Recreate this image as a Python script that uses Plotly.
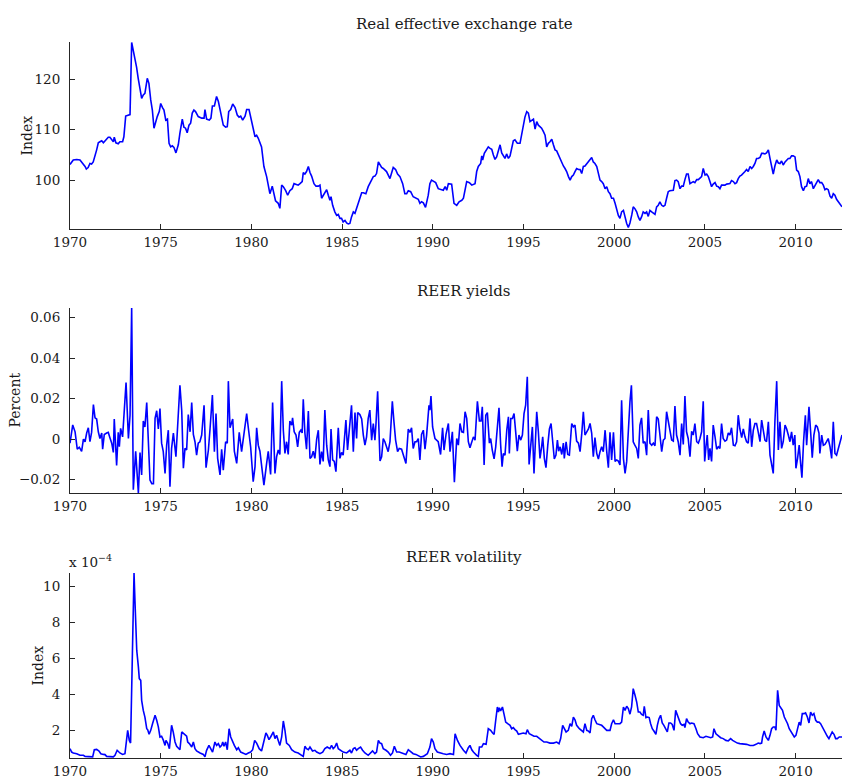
import plotly.graph_objects as go

# ---- data (decimal year, value) ----
reer_years = [
    1970.00, 1970.18, 1970.37, 1970.55, 1970.83, 1970.90, 1971.00, 1971.10, 1971.19, 1971.28,
    1971.47, 1971.56, 1971.65, 1971.75, 1971.84, 1972.02, 1972.11, 1972.20, 1972.30, 1972.39,
    1972.44, 1972.53, 1972.66, 1972.75, 1972.90, 1972.97, 1973.07, 1973.21, 1973.31, 1973.40,
    1973.49, 1973.58, 1973.67, 1973.76, 1973.86, 1973.95, 1974.04, 1974.13, 1974.26, 1974.35,
    1974.45, 1974.54, 1974.63, 1974.72, 1974.81, 1974.92, 1975.00, 1975.10, 1975.18, 1975.28,
    1975.37, 1975.46, 1975.55, 1975.64, 1975.73, 1975.84, 1975.97, 1976.06, 1976.19, 1976.28,
    1976.37, 1976.46, 1976.56, 1976.65, 1976.74, 1976.83, 1976.92, 1977.07, 1977.26, 1977.39,
    1977.44, 1977.53, 1977.68, 1977.77, 1977.85, 1977.96, 1978.08, 1978.18, 1978.27, 1978.36,
    1978.45, 1978.58, 1978.67, 1978.75, 1978.86, 1978.97, 1979.10, 1979.22, 1979.32, 1979.41,
    1979.52, 1979.65, 1979.74, 1979.87, 1979.96, 1980.10, 1980.20, 1980.29, 1980.38, 1980.56,
    1980.69, 1980.84, 1980.93, 1981.02, 1981.15, 1981.24, 1981.33, 1981.48, 1981.57, 1981.67,
    1981.76, 1981.89, 1982.00, 1982.12, 1982.25, 1982.35, 1982.46, 1982.58, 1982.68, 1982.80,
    1982.86, 1982.95, 1983.04, 1983.14, 1983.23, 1983.32, 1983.45, 1983.56, 1983.69, 1983.78,
    1983.87, 1984.00, 1984.15, 1984.24, 1984.33, 1984.39, 1984.48, 1984.60, 1984.70, 1984.79,
    1984.88, 1984.97, 1985.06, 1985.16, 1985.25, 1985.34, 1985.43, 1985.52, 1985.62, 1985.71,
    1985.80, 1985.89, 1985.98, 1986.08, 1986.17, 1986.31, 1986.44, 1986.53, 1986.63, 1986.72,
    1986.81, 1986.90, 1987.00, 1987.09, 1987.18, 1987.27, 1987.45, 1987.64, 1987.73, 1987.82,
    1987.95, 1988.06, 1988.19, 1988.34, 1988.46, 1988.56, 1988.65, 1988.78, 1988.92, 1989.02,
    1989.11, 1989.20, 1989.29, 1989.38, 1989.48, 1989.60, 1989.75, 1989.84, 1989.93, 1990.03,
    1990.16, 1990.30, 1990.45, 1990.58, 1990.68, 1990.77, 1990.86, 1991.04, 1991.17, 1991.32,
    1991.45, 1991.60, 1991.69, 1991.78, 1991.87, 1992.02, 1992.15, 1992.33, 1992.42, 1992.51,
    1992.64, 1992.70, 1992.75, 1992.84, 1992.97, 1993.06, 1993.16, 1993.25, 1993.34, 1993.43,
    1993.52, 1993.62, 1993.71, 1993.80, 1993.89, 1993.98, 1994.07, 1994.17, 1994.26, 1994.35,
    1994.44, 1994.53, 1994.66, 1994.81, 1994.90, 1994.99, 1995.08, 1995.18, 1995.27, 1995.36,
    1995.45, 1995.55, 1995.64, 1995.73, 1995.82, 1995.91, 1996.00, 1996.10, 1996.19, 1996.28,
    1996.37, 1996.46, 1996.56, 1996.65, 1996.74, 1996.83, 1996.92, 1997.02, 1997.11, 1997.20,
    1997.29, 1997.38, 1997.48, 1997.57, 1997.66, 1997.75, 1997.84, 1997.93, 1998.03, 1998.12,
    1998.21, 1998.30, 1998.39, 1998.49, 1998.58, 1998.67, 1998.76, 1998.85, 1998.94, 1999.04,
    1999.13, 1999.22, 1999.31, 1999.40, 1999.50, 1999.59, 1999.68, 1999.77, 1999.86, 1999.96,
    2000.05, 2000.14, 2000.23, 2000.32, 2000.41, 2000.51, 2000.60, 2000.69, 2000.78, 2000.87,
    2000.97, 2001.05, 2001.15, 2001.24, 2001.33, 2001.42, 2001.51, 2001.60, 2001.70, 2001.79,
    2001.88, 2001.97, 2002.07, 2002.16, 2002.25, 2002.34, 2002.43, 2002.52, 2002.62, 2002.71,
    2002.80, 2002.89, 2002.98, 2003.07, 2003.17, 2003.26, 2003.35, 2003.44, 2003.53, 2003.63,
    2003.72, 2003.81, 2003.90, 2003.99, 2004.08, 2004.18, 2004.27, 2004.36, 2004.45, 2004.55,
    2004.64, 2004.73, 2004.82, 2004.91, 2005.01, 2005.10, 2005.19, 2005.28, 2005.37, 2005.46,
    2005.56, 2005.65, 2005.74, 2005.83, 2005.92, 2006.01, 2006.11, 2006.20, 2006.29, 2006.38,
    2006.47, 2006.57, 2006.66, 2006.75, 2006.84, 2006.93, 2007.02, 2007.12, 2007.21, 2007.30,
    2007.39, 2007.49, 2007.58, 2007.67, 2007.76, 2007.85, 2007.94, 2008.04, 2008.13, 2008.22,
    2008.31, 2008.40, 2008.50, 2008.59, 2008.68, 2008.77, 2008.86, 2008.96, 2009.05, 2009.14,
    2009.23, 2009.32, 2009.42, 2009.51, 2009.60, 2009.69, 2009.78, 2009.87, 2009.97, 2010.06,
    2010.15, 2010.24, 2010.33, 2010.43, 2010.52, 2010.61, 2010.70, 2010.79, 2010.88, 2010.98,
    2011.07, 2011.16, 2011.25, 2011.34, 2011.44, 2011.53, 2011.62, 2011.71, 2011.80, 2011.90,
    2011.99, 2012.08, 2012.17, 2012.26, 2012.36, 2012.45, 2012.56,
]
reer_index = [
    103.1, 104.0, 104.1, 104.0, 102.7, 102.2, 102.5, 103.3, 103.2, 103.6,
    106.0, 107.4, 107.6, 107.8, 107.4, 108.0, 108.5, 108.5, 108.1, 107.6,
    108.5, 107.4, 107.2, 107.6, 107.6, 108.6, 112.7, 112.8, 113.0, 127.3,
    125.8, 123.9, 122.4, 120.2, 118.2, 116.2, 116.9, 117.2, 120.2, 119.2,
    115.9, 113.9, 110.3, 111.6, 112.6, 113.6, 115.2, 114.4, 113.9, 111.9,
    112.1, 107.3, 106.6, 106.8, 106.5, 105.4, 107.0, 109.3, 112.1, 110.5,
    110.3, 109.4, 110.9, 111.3, 113.3, 113.9, 113.6, 112.6, 112.3, 112.3,
    114.0, 112.1, 111.9, 112.3, 114.7, 114.7, 116.6, 115.6, 113.9, 112.9,
    110.9, 110.5, 110.6, 113.6, 114.0, 115.1, 114.4, 112.9, 112.5, 112.7,
    111.9, 112.7, 114.0, 114.0, 112.6, 110.3, 108.6, 108.9, 108.3, 106.6,
    102.7, 100.7, 99.0, 97.3, 98.8, 97.5, 95.9, 95.4, 94.4, 99.0,
    98.7, 97.9, 97.0, 97.9, 98.3, 99.3, 99.2, 99.0, 99.3, 99.7,
    101.5, 101.2, 101.7, 102.7, 101.5, 100.8, 99.3, 98.8, 98.8, 99.0,
    96.4, 97.3, 98.1, 97.0, 96.0, 96.7, 95.0, 93.7, 93.0, 93.2,
    92.4, 92.4, 91.7, 92.0, 91.5, 91.3, 91.4, 92.7, 93.7, 93.4,
    94.4, 95.4, 96.4, 97.5, 97.5, 97.3, 98.7, 99.3, 100.0, 100.7,
    100.8, 101.3, 103.6, 103.0, 102.5, 102.3, 101.7, 100.3, 101.7, 102.5,
    102.1, 101.2, 100.7, 99.3, 97.3, 97.3, 97.9, 97.7, 96.7, 96.5,
    96.4, 96.2, 95.4, 95.7, 95.5, 94.6, 97.0, 99.3, 100.0, 99.7,
    99.5, 98.3, 98.1, 98.0, 98.7, 98.0, 99.3, 99.2, 95.4, 95.0,
    95.7, 96.0, 96.4, 98.0, 99.7, 99.5, 99.0, 99.3, 101.7, 102.7,
    103.3, 104.8, 104.0, 105.3, 106.0, 106.6, 106.3, 106.1, 105.0, 104.1,
    104.6, 106.0, 107.0, 105.4, 104.8, 104.3, 105.2, 104.3, 104.8, 106.3,
    107.8, 108.0, 107.3, 107.3, 109.3, 111.3, 112.5, 113.6, 113.3, 111.6,
    111.8, 112.1, 110.1, 111.6, 110.9, 110.6, 110.3, 109.6, 108.9, 106.6,
    107.3, 107.6, 108.1, 107.0, 106.0, 105.8, 105.0, 104.3, 103.6, 102.8,
    102.3, 101.7, 100.7, 100.0, 100.7, 101.0, 101.7, 102.3, 102.1, 102.1,
    101.3, 102.7, 102.8, 103.3, 103.6, 104.3, 104.5, 103.6, 103.3, 102.7,
    101.3, 100.0, 99.7, 99.3, 98.3, 98.7, 97.7, 97.3, 96.4, 96.4,
    95.4, 94.0, 93.0, 92.4, 93.7, 94.0, 92.4, 91.4, 90.6, 91.5,
    93.1, 94.7, 94.3, 93.7, 92.7, 92.0, 92.7, 93.7, 93.4, 93.7,
    92.8, 94.0, 93.7, 93.4, 93.2, 94.7, 95.0, 95.7, 95.0, 94.8,
    95.0, 96.4, 97.7, 97.9, 97.9, 98.0, 99.9, 100.0, 99.7, 98.3,
    98.8, 98.8, 100.1, 101.2, 101.2, 99.3, 99.5, 99.7, 99.5, 100.1,
    100.1, 100.5, 100.7, 102.3, 101.0, 101.2, 100.7, 99.7, 98.7, 99.2,
    99.5, 98.8, 98.7, 98.3, 99.0, 99.0, 99.0, 99.2, 99.2, 99.3,
    99.9, 99.7, 99.3, 99.5, 100.3, 100.8, 101.0, 101.3, 101.7, 102.1,
    101.7, 102.7, 102.3, 102.7, 103.3, 104.3, 104.3, 104.5, 105.3, 105.3,
    105.2, 105.4, 106.0, 104.3, 102.7, 101.2, 102.8, 104.0, 103.4, 103.3,
    103.8, 103.0, 103.6, 104.0, 104.3, 104.3, 104.8, 104.8, 104.6, 102.0,
    101.7, 100.7, 98.7, 97.9, 98.7, 98.8, 100.3, 99.3, 99.7, 98.3,
    99.0, 99.5, 100.1, 99.5, 99.5, 99.0, 98.1, 98.3, 98.1, 96.8,
    96.4, 97.3, 97.0, 96.2, 95.7, 95.4, 94.7,
]

yield_years = [
    1970.00, 1970.15, 1970.28, 1970.40, 1970.51, 1970.64, 1970.74, 1970.83, 1970.92, 1971.01,
    1971.10, 1971.19, 1971.29, 1971.38, 1971.47, 1971.56, 1971.65, 1971.75, 1971.80, 1971.89,
    1972.02, 1972.11, 1972.20, 1972.30, 1972.39, 1972.44, 1972.57, 1972.66, 1972.72, 1972.79,
    1972.90, 1973.09, 1973.22, 1973.31, 1973.40, 1973.49, 1973.62, 1973.77, 1973.86, 1973.95,
    1974.04, 1974.13, 1974.23, 1974.32, 1974.41, 1974.51, 1974.60, 1974.69, 1974.78, 1974.87,
    1974.96, 1975.05, 1975.14, 1975.24, 1975.33, 1975.42, 1975.51, 1975.60, 1975.70, 1975.84,
    1975.97, 1976.06, 1976.16, 1976.25, 1976.34, 1976.43, 1976.52, 1976.62, 1976.71, 1976.80,
    1976.89, 1976.98, 1977.07, 1977.16, 1977.26, 1977.39, 1977.50, 1977.63, 1977.72, 1977.85,
    1977.96, 1978.05, 1978.14, 1978.27, 1978.36, 1978.45, 1978.58, 1978.67, 1978.73, 1978.82,
    1978.97, 1979.06, 1979.19, 1979.33, 1979.46, 1979.61, 1979.74, 1979.83, 1979.96, 1980.10,
    1980.20, 1980.29, 1980.38, 1980.47, 1980.56, 1980.69, 1980.84, 1980.93, 1981.06, 1981.17,
    1981.30, 1981.39, 1981.48, 1981.57, 1981.67, 1981.76, 1981.85, 1981.94, 1982.03, 1982.12,
    1982.22, 1982.27, 1982.36, 1982.46, 1982.55, 1982.64, 1982.73, 1982.80, 1982.86, 1982.95,
    1983.04, 1983.14, 1983.23, 1983.32, 1983.41, 1983.50, 1983.60, 1983.69, 1983.78, 1983.87,
    1983.96, 1984.05, 1984.15, 1984.24, 1984.33, 1984.39, 1984.48, 1984.57, 1984.66, 1984.79,
    1984.88, 1984.97, 1985.06, 1985.21, 1985.30, 1985.40, 1985.52, 1985.62, 1985.71, 1985.80,
    1985.86, 1985.98, 1986.08, 1986.17, 1986.26, 1986.35, 1986.44, 1986.53, 1986.63, 1986.72,
    1986.81, 1986.87, 1986.96, 1987.09, 1987.18, 1987.27, 1987.36, 1987.45, 1987.54, 1987.64,
    1987.77, 1987.86, 1987.95, 1988.06, 1988.15, 1988.28, 1988.41, 1988.52, 1988.65, 1988.74,
    1988.83, 1988.92, 1989.02, 1989.11, 1989.20, 1989.29, 1989.38, 1989.48, 1989.57, 1989.66,
    1989.79, 1989.84, 1989.90, 1989.99, 1990.12, 1990.21, 1990.30, 1990.43, 1990.54, 1990.62,
    1990.73, 1990.86, 1990.95, 1991.08, 1991.19, 1991.32, 1991.41, 1991.50, 1991.60, 1991.69,
    1991.78, 1991.87, 1991.96, 1992.05, 1992.15, 1992.24, 1992.33, 1992.46, 1992.57, 1992.66,
    1992.73, 1992.83, 1992.92, 1993.01, 1993.12, 1993.19, 1993.28, 1993.38, 1993.47, 1993.56,
    1993.65, 1993.74, 1993.82, 1993.89, 1993.98, 1994.08, 1994.17, 1994.22, 1994.30, 1994.39,
    1994.48, 1994.57, 1994.66, 1994.75, 1994.85, 1994.94, 1995.03, 1995.12, 1995.21, 1995.31,
    1995.40, 1995.49, 1995.58, 1995.73, 1995.82, 1995.91, 1996.00, 1996.06, 1996.15, 1996.24,
    1996.34, 1996.43, 1996.52, 1996.61, 1996.70, 1996.79, 1996.87, 1996.94, 1997.02, 1997.11,
    1997.20, 1997.25, 1997.35, 1997.44, 1997.53, 1997.66, 1997.75, 1997.84, 1997.93, 1998.03,
    1998.12, 1998.21, 1998.30, 1998.39, 1998.49, 1998.58, 1998.67, 1998.76, 1998.85, 1998.94,
    1999.04, 1999.13, 1999.22, 1999.31, 1999.40, 1999.50, 1999.59, 1999.68, 1999.77, 1999.86,
    1999.96, 2000.05, 2000.14, 2000.23, 2000.32, 2000.41, 2000.51, 2000.60, 2000.69, 2000.78,
    2000.87, 2000.95, 2001.05, 2001.14, 2001.24, 2001.33, 2001.42, 2001.51, 2001.60, 2001.70,
    2001.79, 2001.88, 2001.97, 2002.07, 2002.16, 2002.25, 2002.34, 2002.43, 2002.52, 2002.62,
    2002.71, 2002.80, 2002.89, 2002.98, 2003.07, 2003.17, 2003.26, 2003.35, 2003.44, 2003.53,
    2003.63, 2003.72, 2003.81, 2003.90, 2003.99, 2004.08, 2004.18, 2004.27, 2004.36, 2004.45,
    2004.55, 2004.64, 2004.73, 2004.82, 2004.91, 2004.99, 2005.06, 2005.13, 2005.21, 2005.28,
    2005.37, 2005.46, 2005.56, 2005.65, 2005.74, 2005.83, 2005.92, 2006.01, 2006.11, 2006.20,
    2006.29, 2006.38, 2006.47, 2006.57, 2006.66, 2006.75, 2006.84, 2006.93, 2007.03, 2007.12,
    2007.21, 2007.30, 2007.39, 2007.49, 2007.58, 2007.67, 2007.76, 2007.85, 2007.94, 2008.04,
    2008.13, 2008.22, 2008.31, 2008.40, 2008.50, 2008.59, 2008.68, 2008.77, 2008.86, 2008.96,
    2009.05, 2009.14, 2009.23, 2009.32, 2009.42, 2009.51, 2009.60, 2009.69, 2009.78, 2009.87,
    2009.96, 2010.02, 2010.11, 2010.20, 2010.28, 2010.35, 2010.44, 2010.54, 2010.61, 2010.74,
    2010.83, 2010.92, 2011.01, 2011.11, 2011.20, 2011.29, 2011.34, 2011.44, 2011.53, 2011.62,
    2011.71, 2011.80, 2011.90, 2011.99, 2012.08, 2012.17, 2012.26, 2012.36, 2012.45, 2012.56,
]
yield_pct = [
    -0.0020, 0.0070, 0.0036, -0.0050, -0.0040, -0.0060, 0.0000, -0.0013, 0.0030, 0.0056,
    -0.0013, 0.0033, 0.0170, 0.0105, 0.0099, 0.0036, 0.0003, 0.0030, -0.0050, 0.0023,
    0.0030, 0.0033, 0.0007, -0.0020, -0.0066, 0.0099, -0.0130, 0.0033, -0.0038, 0.0053,
    0.0011, 0.0279, 0.0003, 0.0118, 0.0647, -0.0250, -0.0060, -0.0267, -0.0066, -0.0177,
    0.0089, 0.0060, 0.0180, -0.0050, -0.0202, -0.0220, -0.0220, 0.0102, 0.0140, 0.0050,
    0.0151, -0.0020, -0.0060, -0.0170, -0.0030, 0.0044, -0.0235, -0.0046, 0.0030, -0.0087,
    0.0118, 0.0266, 0.0140, -0.0144, -0.0046, -0.0054, 0.0121, 0.0036, 0.0180, 0.0023,
    -0.0013, -0.0079, -0.0020, -0.0013, 0.0020, 0.0167, -0.0141, -0.0054, 0.0050, 0.0217,
    -0.0062, 0.0126, -0.0095, -0.0177, -0.0050, -0.0153, -0.0013, -0.0020, 0.0286, 0.0056,
    0.0099, -0.0059, -0.0120, 0.0033, -0.0062, 0.0050, 0.0126, 0.0056, -0.0040, -0.0210,
    -0.0136, 0.0056, -0.0030, -0.0060, -0.0130, -0.0227, -0.0120, -0.0060, -0.0174, 0.0180,
    -0.0169, -0.0087, -0.0054, -0.0076, 0.0286, 0.0044, -0.0071, -0.0013, -0.0076, 0.0089,
    0.0069, 0.0105, 0.0036, 0.0020, -0.0038, 0.0033, 0.0044, 0.0030, 0.0197, 0.0030,
    -0.0050, 0.0138, -0.0095, -0.0087, -0.0060, -0.0095, 0.0000, 0.0044, -0.0125, -0.0062,
    -0.0110, 0.0143, -0.0030, -0.0103, -0.0136, 0.0050, -0.0103, -0.0110, -0.0161, 0.0056,
    -0.0095, -0.0066, -0.0079, 0.0094, -0.0054, 0.0050, 0.0167, -0.0062, 0.0131, 0.0003,
    0.0131, 0.0121, 0.0099, 0.0020, -0.0030, 0.0011, 0.0102, 0.0143, -0.0005, 0.0077,
    -0.0005, 0.0077, 0.0236, -0.0108, -0.0087, 0.0003, -0.0013, -0.0038, -0.0062, -0.0013,
    0.0187, 0.0085, -0.0005, -0.0062, -0.0046, -0.0050, -0.0095, -0.0120, 0.0050, 0.0033,
    0.0056, -0.0046, -0.0013, -0.0013, 0.0003, -0.0103, 0.0023, 0.0044, -0.0050, 0.0020,
    0.0167, 0.0143, 0.0213, 0.0060, 0.0003, -0.0005, -0.0013, -0.0076, 0.0056, -0.0054,
    0.0023, 0.0077, -0.0062, 0.0036, -0.0213, 0.0003, -0.0030, 0.0077, 0.0036, 0.0033,
    0.0135, 0.0102, -0.0013, -0.0043, -0.0013, 0.0011, -0.0005, 0.0187, 0.0089, 0.0089,
    0.0159, -0.0128, 0.0118, 0.0131, -0.0020, 0.0003, -0.0054, -0.0098, -0.0038, 0.0082,
    0.0154, -0.0026, -0.0136, -0.0071, -0.0079, 0.0044, 0.0110, -0.0071, 0.0102, 0.0102,
    0.0126, 0.0036, -0.0060, 0.0020, -0.0005, 0.0020, 0.0126, 0.0167, 0.0307, -0.0125,
    -0.0020, 0.0060, -0.0169, 0.0135, 0.0036, -0.0095, -0.0038, 0.0011, -0.0095, -0.0141,
    -0.0030, 0.0050, 0.0077, -0.0005, -0.0098, -0.0079, -0.0005, -0.0060, -0.0038, -0.0076,
    -0.0020, -0.0095, -0.0013, -0.0076, -0.0079, 0.0077, 0.0060, 0.0069, -0.0010, -0.0020,
    -0.0062, 0.0023, 0.0135, 0.0020, 0.0039, 0.0050, 0.0077, 0.0030, -0.0087, 0.0007,
    -0.0071, -0.0098, -0.0062, -0.0038, -0.0062, 0.0044, -0.0062, -0.0141, 0.0033, -0.0103,
    0.0033, -0.0110, -0.0103, -0.0108, -0.0128, 0.0192, -0.0095, -0.0169, -0.0110, 0.0060,
    0.0184, 0.0266, -0.0013, -0.0030, -0.0046, -0.0095, 0.0069, 0.0105, -0.0020, -0.0013,
    -0.0079, 0.0143, -0.0020, -0.0030, -0.0020, -0.0033, 0.0110, 0.0099, 0.0036, -0.0062,
    -0.0005, 0.0003, 0.0135, 0.0094, 0.0050, -0.0005, -0.0010, 0.0163, 0.0020, -0.0013,
    -0.0079, 0.0077, -0.0026, 0.0212, 0.0036, 0.0003, -0.0087, 0.0039, 0.0020, 0.0077,
    -0.0013, -0.0020, 0.0003, 0.0036, 0.0187, -0.0110, -0.0038, 0.0020, -0.0103, -0.0046,
    -0.0110, 0.0069, 0.0011, -0.0050, -0.0038, -0.0046, 0.0077, 0.0003, -0.0010, -0.0005,
    0.0030, 0.0020, 0.0056, -0.0030, -0.0033, -0.0013, 0.0118, 0.0050, 0.0007, 0.0050,
    0.0011, -0.0013, -0.0020, 0.0102, -0.0038, 0.0044, 0.0077, 0.0077, 0.0036, -0.0013,
    0.0094, 0.0036, -0.0005, -0.0013, 0.0085, -0.0079, -0.0128, -0.0169, 0.0085, 0.0286,
    -0.0054, 0.0085, -0.0046, -0.0013, 0.0069, 0.0050, 0.0020, -0.0013, 0.0036, -0.0030,
    0.0020, -0.0144, -0.0095, -0.0030, -0.0120, -0.0190, -0.0013, 0.0118, -0.0030, 0.0159,
    0.0036, -0.0092, 0.0020, 0.0069, 0.0060, 0.0030, -0.0071, 0.0020, -0.0030, -0.0026,
    -0.0013, 0.0003, -0.0038, -0.0095, 0.0085, -0.0071, -0.0079, -0.0050, -0.0020, 0.0020,
]

vol_years = [
    1970.00, 1970.09, 1970.18, 1970.37, 1970.55, 1970.74, 1970.83, 1971.01, 1971.25, 1971.34,
    1971.47, 1971.60, 1971.70, 1971.84, 1971.93, 1972.02, 1972.20, 1972.39, 1972.48, 1972.60,
    1972.75, 1972.90, 1973.03, 1973.18, 1973.27, 1973.34, 1973.44, 1973.53, 1973.58, 1973.68,
    1973.77, 1973.82, 1973.90, 1973.95, 1974.04, 1974.13, 1974.23, 1974.28, 1974.36, 1974.45,
    1974.55, 1974.69, 1974.78, 1974.87, 1974.96, 1975.05, 1975.15, 1975.24, 1975.29, 1975.38,
    1975.48, 1975.60, 1975.69, 1975.79, 1975.88, 1975.97, 1976.06, 1976.16, 1976.25, 1976.34,
    1976.43, 1976.49, 1976.58, 1976.71, 1976.80, 1976.89, 1976.98, 1977.17, 1977.35, 1977.44,
    1977.53, 1977.66, 1977.75, 1977.86, 1977.99, 1978.08, 1978.18, 1978.27, 1978.36, 1978.42,
    1978.49, 1978.58, 1978.67, 1978.77, 1978.86, 1978.97, 1979.06, 1979.19, 1979.28, 1979.41,
    1979.56, 1979.70, 1979.83, 1979.96, 1980.07, 1980.18, 1980.29, 1980.43, 1980.56, 1980.69,
    1980.80, 1980.88, 1980.97, 1981.06, 1981.21, 1981.30, 1981.39, 1981.48, 1981.57, 1981.67,
    1981.76, 1981.85, 1981.94, 1982.09, 1982.22, 1982.40, 1982.58, 1982.77, 1982.86, 1982.95,
    1983.04, 1983.14, 1983.23, 1983.37, 1983.50, 1983.60, 1983.78, 1983.93, 1984.05, 1984.18,
    1984.33, 1984.42, 1984.51, 1984.60, 1984.70, 1984.79, 1984.92, 1985.06, 1985.25, 1985.43,
    1985.52, 1985.62, 1985.71, 1985.80, 1985.89, 1986.02, 1986.13, 1986.26, 1986.44, 1986.57,
    1986.68, 1986.81, 1986.90, 1987.00, 1987.09, 1987.18, 1987.27, 1987.42, 1987.54, 1987.67,
    1987.78, 1987.88, 1988.01, 1988.15, 1988.28, 1988.41, 1988.52, 1988.65, 1988.78, 1988.92,
    1989.07, 1989.20, 1989.33, 1989.48, 1989.60, 1989.70, 1989.84, 1989.93, 1990.03, 1990.12,
    1990.25, 1990.39, 1990.58, 1990.77, 1990.95, 1991.14, 1991.23, 1991.36, 1991.50, 1991.69,
    1991.83, 1991.96, 1992.05, 1992.15, 1992.24, 1992.42, 1992.51, 1992.57, 1992.70, 1992.79,
    1992.94, 1993.06, 1993.19, 1993.30, 1993.38, 1993.47, 1993.56, 1993.62, 1993.67, 1993.74,
    1993.84, 1993.93, 1994.02, 1994.13, 1994.26, 1994.35, 1994.44, 1994.53, 1994.63, 1994.72,
    1994.85, 1994.99, 1995.14, 1995.21, 1995.32, 1995.45, 1995.58, 1995.73, 1995.88, 1996.00,
    1996.13, 1996.28, 1996.46, 1996.65, 1996.83, 1996.96, 1997.05, 1997.16, 1997.24, 1997.35,
    1997.47, 1997.57, 1997.66, 1997.75, 1997.84, 1997.93, 1998.08, 1998.21, 1998.30, 1998.39,
    1998.49, 1998.58, 1998.67, 1998.76, 1998.85, 1998.94, 1999.04, 1999.18, 1999.31, 1999.40,
    1999.50, 1999.59, 1999.77, 1999.86, 1999.96, 2000.05, 2000.23, 2000.32, 2000.41, 2000.51,
    2000.60, 2000.69, 2000.78, 2000.87, 2000.96, 2001.05, 2001.15, 2001.24, 2001.33, 2001.42,
    2001.51, 2001.60, 2001.66, 2001.75, 2001.84, 2001.93, 2002.01, 2002.10, 2002.19, 2002.30,
    2002.38, 2002.47, 2002.56, 2002.65, 2002.74, 2002.84, 2002.93, 2003.02, 2003.11, 2003.20,
    2003.30, 2003.39, 2003.48, 2003.57, 2003.66, 2003.75, 2003.85, 2003.90, 2003.99, 2004.08,
    2004.18, 2004.27, 2004.40, 2004.51, 2004.60, 2004.73, 2004.91, 2005.06, 2005.19, 2005.32,
    2005.43, 2005.50, 2005.61, 2005.74, 2005.87, 2006.01, 2006.16, 2006.29, 2006.42, 2006.53,
    2006.66, 2006.79, 2006.93, 2007.12, 2007.30, 2007.49, 2007.67, 2007.82, 2007.94, 2008.04,
    2008.13, 2008.18, 2008.27, 2008.37, 2008.50, 2008.59, 2008.68, 2008.77, 2008.86, 2008.92,
    2009.01, 2009.10, 2009.19, 2009.28, 2009.38, 2009.47, 2009.56, 2009.65, 2009.75, 2009.84,
    2009.93, 2010.02, 2010.11, 2010.20, 2010.28, 2010.37, 2010.46, 2010.55, 2010.65, 2010.74,
    2010.83, 2010.92, 2011.01, 2011.11, 2011.20, 2011.29, 2011.38, 2011.47, 2011.56, 2011.66,
    2011.75, 2011.84, 2011.93, 2012.02, 2012.12, 2012.21, 2012.30, 2012.41, 2012.56,
]
# volatility in units of 1e-4
vol_index = [
    0.98, 0.79, 0.74, 0.70, 0.61, 0.61, 0.55, 0.55, 0.52, 0.92,
    0.94, 0.85, 0.70, 0.66, 0.65, 0.55, 0.52, 0.52, 0.61, 0.89,
    0.74, 0.66, 0.70, 2.00, 1.44, 1.29, 6.27, 10.76, 9.24, 6.45,
    5.53, 4.88, 4.78, 3.67, 3.11, 2.74, 2.09, 2.04, 1.78, 2.00,
    2.37, 2.84, 2.56, 2.19, 1.63, 1.67, 1.44, 1.16, 1.44, 1.29,
    0.98, 2.28, 1.91, 1.35, 1.11, 0.98, 0.92, 1.91, 1.81, 1.72,
    1.67, 1.35, 1.26, 1.07, 1.35, 0.98, 0.85, 0.74, 0.66, 0.52,
    0.89, 1.16, 0.98, 0.79, 1.35, 1.16, 1.26, 1.07, 1.16, 1.35,
    1.11, 1.35, 0.92, 2.09, 1.63, 1.35, 1.16, 0.92, 1.03, 0.79,
    0.70, 0.66, 0.74, 0.79, 0.92, 1.44, 1.29, 0.98, 0.85, 1.35,
    1.85, 1.72, 1.48, 1.63, 1.91, 1.54, 1.72, 1.44, 1.16, 1.63,
    2.52, 2.00, 1.29, 1.16, 0.92, 0.79, 0.74, 0.61, 0.55, 1.11,
    0.98, 0.92, 1.07, 0.85, 0.89, 0.79, 0.70, 0.79, 0.98, 1.07,
    0.98, 1.16, 0.98, 1.07, 1.29, 0.98, 0.89, 0.79, 0.74, 0.89,
    0.74, 0.98, 1.03, 0.89, 0.98, 1.07, 0.89, 0.74, 0.61, 0.74,
    0.85, 0.70, 0.79, 1.44, 1.29, 1.26, 0.98, 0.89, 0.79, 0.61,
    0.74, 1.11, 0.79, 0.79, 0.74, 0.70, 0.66, 0.92, 0.79, 0.70,
    0.66, 0.61, 0.52, 0.55, 0.61, 0.70, 1.07, 1.54, 1.35, 0.98,
    0.79, 0.74, 0.70, 0.66, 0.70, 0.66, 1.81, 1.44, 1.16, 0.89,
    0.74, 1.03, 1.16, 0.92, 0.79, 0.61, 0.55, 1.07, 1.07, 1.26,
    1.22, 2.09, 2.00, 1.85, 1.78, 2.56, 3.30, 3.02, 3.26, 3.08,
    3.30, 2.89, 2.46, 2.37, 2.28, 2.09, 2.15, 2.04, 1.96, 1.78,
    1.81, 1.85, 1.81, 2.04, 1.81, 1.72, 1.67, 1.67, 1.54, 1.44,
    1.35, 1.35, 1.29, 1.29, 1.35, 1.26, 1.54, 2.28, 2.09, 1.91,
    2.00, 2.37, 2.22, 2.74, 2.59, 2.28, 2.09, 2.00, 1.91, 2.37,
    2.00, 1.96, 1.85, 2.65, 2.84, 2.59, 2.37, 2.33, 2.28, 2.19,
    2.09, 2.00, 2.00, 2.37, 2.59, 2.37, 2.37, 2.37, 2.46, 3.30,
    3.11, 3.34, 3.21, 2.90, 3.30, 4.32, 3.95, 3.58, 3.02, 3.02,
    2.89, 2.84, 3.34, 2.71, 2.74, 2.71, 2.37, 2.09, 1.96, 1.78,
    2.28, 2.65, 2.84, 2.41, 2.28, 2.09, 1.91, 2.41, 2.41, 2.33,
    2.00, 3.11, 2.89, 2.65, 2.37, 2.28, 2.33, 2.15, 2.65, 2.46,
    2.37, 2.41, 2.37, 2.09, 1.81, 1.63, 1.59, 1.67, 1.63, 1.59,
    1.63, 2.09, 1.81, 1.67, 1.59, 1.54, 1.44, 1.41, 1.54, 1.44,
    1.35, 1.29, 1.26, 1.26, 1.22, 1.16, 1.16, 1.22, 1.29, 1.26,
    1.29, 1.63, 1.96, 1.63, 1.44, 1.72, 2.09, 2.19, 2.19, 2.00,
    4.23, 3.39, 3.21, 3.11, 2.74, 2.56, 2.37, 2.09, 1.91, 1.72,
    1.63, 1.72, 2.09, 2.46, 2.28, 2.93, 2.93, 2.97, 2.74, 2.41,
    3.02, 2.84, 2.93, 2.56, 2.46, 2.46, 2.37, 2.19, 1.96, 1.78,
    1.67, 1.54, 1.72, 1.91, 1.78, 1.54, 1.54, 1.63, 1.63,
]

assert len(reer_years) == len(reer_index)
assert len(yield_years) == len(yield_pct)
assert len(vol_years) == len(vol_index)

year_ticks = [1970, 1975, 1980, 1985, 1990, 1995, 2000, 2005, 2010]
titles = ["Real effective exchange rate", "REER yields", "REER volatility"]
ylabels = ["Index", "Percent", "Index"]

# ---- page geometry (pixels) ----
W, H = 842, 778
LEFT = 70
FONT = "DejaVu Serif"
TEXT_COLOR = "#1a1a1a"
AXIS_COLOR = "#262626"
LINE_BLUE = "#0000ff"


def px_x(p):
    return (p - LEFT) / (W - LEFT)


def px_y(p):
    return 1 - p / H


# (top, bottom) of each panel, y range, ticks, y-label centre x
panels = [
    dict(x=reer_years, y=reer_index, top=42, bottom=229, yrange=[90.3, 127.4],
         tickvals=[100, 110, 120], ticktext=["100", "110", "120"], label_x=27, title_y=24),
    dict(x=yield_years, y=yield_pct, top=308, bottom=493, yrange=[-0.0266, 0.0647],
         tickvals=[-0.02, 0, 0.02, 0.04, 0.06],
         ticktext=["\u22120.02", "0", "0.02", "0.04", "0.06"], label_x=15, title_y=291),
    dict(x=vol_years, y=vol_index, top=573, bottom=758, yrange=[0.46, 10.76],
         tickvals=[2, 4, 6, 8, 10], ticktext=["2", "4", "6", "8", "10"], label_x=37, title_y=557),
]

fig = go.Figure()
annotations = []

for i, p in enumerate(panels):
    n = "" if i == 0 else str(i + 1)
    fig.add_trace(go.Scatter(
        x=p["x"], y=p["y"], mode="lines",
        line=dict(color=LINE_BLUE, width=1.6),
        xaxis="x" + n, yaxis="y" + n, hoverinfo="skip",
    ))
    dom = [px_y(p["bottom"]), px_y(p["top"])]
    axis_common = dict(
        showline=True, linecolor=AXIS_COLOR, linewidth=1,
        ticks="inside", ticklen=5, tickcolor=AXIS_COLOR,
        showgrid=False, zeroline=False, mirror=False,
        tickfont=dict(family=FONT, size=13.5, color=TEXT_COLOR),
        automargin=False,
    )
    fig.layout["xaxis" + n] = dict(
        axis_common, domain=[0, 1], anchor="y" + n, range=[1970, 2012.56],
        tickvals=year_ticks, ticktext=[str(t) for t in year_ticks],
        ticklabelstandoff=1,
    )
    fig.layout["yaxis" + n] = dict(
        axis_common, domain=dom, anchor="x" + n, range=p["yrange"],
        tickvals=p["tickvals"], ticktext=p["ticktext"],
        ticklabelstandoff=6,
    )
    annotations.append(dict(
        text=titles[i], xref="paper", yref="paper",
        x=px_x(464), y=px_y(p["title_y"]), xanchor="center", yanchor="middle",
        showarrow=False, font=dict(family=FONT, size=15, color=TEXT_COLOR),
    ))
    annotations.append(dict(
        text=ylabels[i], xref="paper", yref="paper", textangle=-90,
        x=px_x(p["label_x"]), y=px_y((p["top"] + p["bottom"]) / 2),
        xanchor="center", yanchor="middle",
        showarrow=False, font=dict(family=FONT, size=14, color=TEXT_COLOR),
    ))

annotations.append(dict(
    text="x 10<sup>\u22124</sup>", xref="paper", yref="paper",
    x=px_x(67), y=px_y(561), xanchor="left", yanchor="middle",
    showarrow=False, font=dict(family=FONT, size=13.5, color=TEXT_COLOR),
))

fig.update_layout(
    width=W, height=H,
    margin=dict(l=LEFT, r=0, t=0, b=0),
    paper_bgcolor="white", plot_bgcolor="white",
    showlegend=False,
    annotations=annotations,
)

# the page's default body margin would shift the figure; drop it
fig.write_html(
    "out.html",
    config={"displayModeBar": False},
    post_script="document.body.style.margin='0';document.body.style.overflow='hidden';",
)
